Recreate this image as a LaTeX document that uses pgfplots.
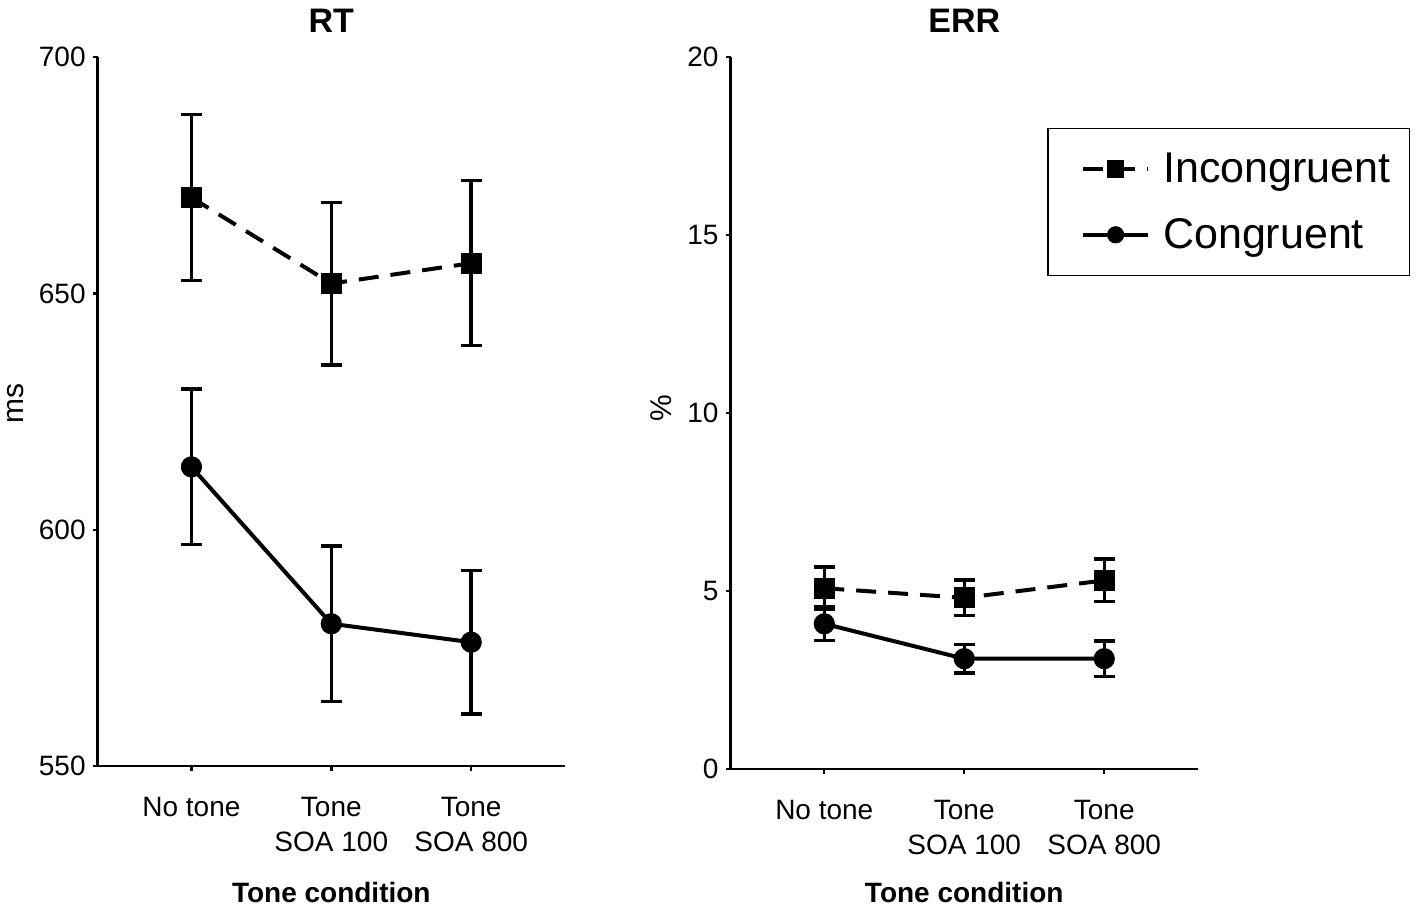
\documentclass[border=0pt]{standalone}
\usepackage{pgfplots}
\pgfplotsset{compat=1.18}
\usepackage{fontspec}
\setmainfont{Liberation Sans}
\pgfplotsset{
  panel/.style={
    scale only axis,
    axis x line*=bottom,
    axis y line*=left,
    axis line style={line width=1.2pt},
    every tick/.style={line width=1.2pt, black},
    tick align=outside,
    major tick length=2.5pt,
    xmin=-0.67, xmax=2.67,
    xtick={0,1,2},
    xticklabels={No tone,{Tone\\SOA 100},{Tone\\SOA 800}},
    xticklabel style={align=center, yshift=-9.5pt},
    tick label style={font=\fontsize{14}{17.5}\selectfont},
    /pgf/number format/assume math mode=true,
    clip=false,
    title style={at={(axis description cs:0.5,1)}, anchor=base, yshift=6.5pt, font=\bfseries\fontsize{17}{20}\selectfont},
    xlabel style={at={(axis description cs:0.5,0)}, anchor=base, font=\bfseries\fontsize{14}{17}\selectfont},
    ylabel style={anchor=center, rotate=0, font=\fontsize{15}{18}\selectfont},
    error bars/y dir=both,
    error bars/y explicit,
    error bars/error mark=-,
    error bars/error bar style={line width=1.7pt, solid, black},
    error bars/error mark options={rotate=90, line width=1.7pt, mark size=5.3pt, solid, black},
  },
  incong/.style={black, line width=2pt, dash pattern=on 10pt off 6pt, mark=square*, mark size=4.25pt, mark options={solid, fill=black}},
  cong/.style={black, line width=2pt, solid, mark=*, mark size=4.3pt, mark options={solid, fill=black}},
}
\begin{document}
\begin{tikzpicture}
\begin{axis}[panel,
  at={(0pt,0pt)}, anchor=south west,
  width=233.6pt, height=354.4pt,
  ymin=550, ymax=700, ytick={550,600,650,700},
  title={RT},
  xlabel={Tone condition},
  xlabel style={yshift=-68.3pt},
  ylabel={ms},
  ylabel style={at={(axis description cs:-0.175,0.511)}},
]
\addplot[incong] coordinates {
  (0,670.3) +- (0,17.6)
  (1,652.1) +- (0,17.2)
  (2,656.4) +- (0,17.45)
};
\addplot[cong] coordinates {
  (0,613.3) +- (0,16.45)
  (1,580.1) +- (0,16.45)
  (2,576.2) +- (0,15.2)
};
\end{axis}
\begin{axis}[panel,
  at={(316.4pt,-1.5pt)}, anchor=south west,
  width=233.75pt, height=355.85pt,
  ymin=0, ymax=20, ytick={0,5,10,15,20},
  title={ERR},
  xlabel={Tone condition},
  xlabel style={yshift=-66.85pt},
  ylabel={\%},
  ylabel style={at={(axis description cs:-0.149,0.507)}},
  legend style={at={(1.4535,0.9007)}, anchor=north east, draw=black, line width=0.75pt,
    font=\fontsize{21.5}{25}\selectfont, inner xsep=7.5pt, inner ysep=10pt,
    nodes={inner sep=2pt}, row sep=12.5pt, column sep=4.5pt},
  legend cell align=left,
  legend image code/.code={
    \draw[draw=none] (0pt,0pt) -- (10pt,0pt);
    \draw[mark repeat=2, mark phase=2, #1, mark size=3.3pt] plot coordinates {(10pt,0pt) (26.25pt,0pt) (42.5pt,0pt)};
  },
]
\addplot[incong] coordinates {
  (0,5.08) +- (0,0.6)
  (1,4.81) +- (0,0.5)
  (2,5.30) +- (0,0.6)
};
\addlegendentry{Incongruent}
\addplot[cong] coordinates {
  (0,4.08) +- (0,0.47)
  (1,3.10) +- (0,0.40)
  (2,3.10) +- (0,0.50)
};
\addlegendentry{Congruent}
\end{axis}
\pgfresetboundingbox
\path[use as bounding box] (-48.85pt,-72pt) rectangle (659.65pt,383pt);
\end{tikzpicture}
\end{document}
